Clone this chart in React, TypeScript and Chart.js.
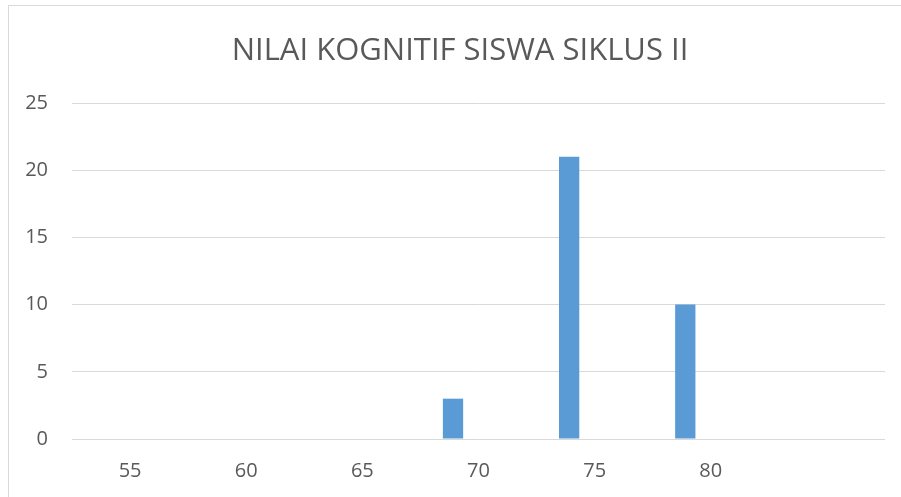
import React, { useEffect, useRef } from "react";
import { Chart, registerables } from "chart.js";

Chart.register(...registerables);

const TITLE = "NILAI KOGNITIF SISWA SIKLUS II";
const CATEGORIES = ["55", "60", "65", "70", "75", "80", ""];
const SERIES1_LABEL = "Frekuensi";
const SERIES1 = [0, 0, 0, 3, 21, 10, 0];
const SERIES2_LABEL = "Series2";
const SERIES2 = [0, 0, 0, 0, 0, 0, 0];
const Y_MIN = 0;
const Y_MAX = 25;
const Y_STEP = 5;

const FONT = "'Open Sans', 'Liberation Sans', sans-serif";

const titlePlugin = {
  id: "frameTitle",
  afterDraw(chart: any) {
    const ctx = chart.ctx;
    ctx.save();
    ctx.font = `normal 31px ${FONT}`;
    ctx.fillStyle = "#595959";
    ctx.textAlign = "center";
    ctx.textBaseline = "middle";
    ctx.fillText(TITLE, 460, 51);
    ctx.restore();
  },
};

export default function App() {
  const ref = useRef<HTMLCanvasElement | null>(null);

  useEffect(() => {
    if (!ref.current) return;
    const chart = new Chart(ref.current, {
      type: "bar",
      data: {
        labels: CATEGORIES,
        datasets: [
          {
            label: SERIES1_LABEL,
            data: SERIES1,
            backgroundColor: "#5B9BD5",
            borderWidth: 0,
            categoryPercentage: 0.878,
            barPercentage: 0.398,
          },
          {
            label: SERIES2_LABEL,
            data: SERIES2,
            backgroundColor: "#ED7D31",
            borderWidth: 0,
            categoryPercentage: 0.878,
            barPercentage: 0.398,
          },
        ],
      },
      plugins: [titlePlugin],
      options: {
        animation: false,
        responsive: false,
        maintainAspectRatio: false,
        devicePixelRatio: 1,
        layout: { padding: { left: 0, right: 16, top: 103, bottom: 0 } },
        plugins: {
          legend: { display: false },
          tooltip: { enabled: false },
          title: { display: false },
        },
        scales: {
          x: {
            grid: { display: false, drawTicks: false },
            border: { display: false },
            ticks: {
              color: "#595959",
              font: { family: FONT, size: 20 },
              padding: 20,
              maxRotation: 0,
              autoSkip: false,
            },
            afterFit: (s: any) => {
              s.height = 58;
            },
          },
          y: {
            min: Y_MIN,
            max: Y_MAX,
            grid: { color: "#d9d9d9", lineWidth: 1, drawTicks: false },
            border: { display: false },
            ticks: {
              stepSize: Y_STEP,
              color: "#595959",
              font: { family: FONT, size: 20 },
              padding: 24,
            },
            afterFit: (s: any) => {
              s.width = 72;
            },
          },
        },
      },
    });
    return () => chart.destroy();
  }, []);

  return (
    <div
      style={{
        position: "fixed",
        left: 0,
        top: 0,
        width: 901,
        height: 497,
        overflow: "hidden",
        background: "#fff",
      }}
    >
      <div
        style={{
          position: "absolute",
          left: 8,
          top: 5,
          width: 1000,
          height: 600,
          border: "1px solid #d9d9d9",
          boxSizing: "border-box",
        }}
      />
      <canvas
        ref={ref}
        width={901}
        height={497}
        style={{ position: "absolute", left: 0, top: 0, width: 901, height: 497 }}
      />
    </div>
  );
}
